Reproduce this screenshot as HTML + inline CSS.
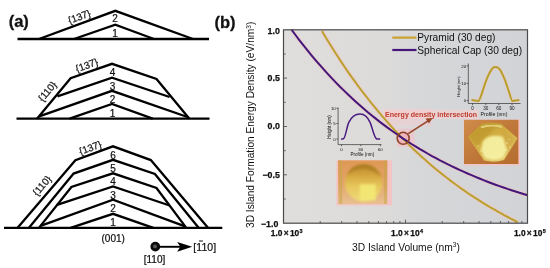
<!DOCTYPE html>
<html><head><meta charset="utf-8"><title>Figure</title>
<style>
html,body{margin:0;padding:0;background:#fff;}
body{width:550px;height:268px;overflow:hidden;}
svg{display:block;}
text{font-family:"Liberation Sans",sans-serif;fill:#111;}
.k{stroke:#000;stroke-width:2.3;fill:none;stroke-linejoin:miter;stroke-linecap:butt}
.lab{font-size:10.2px}
.tk{font-weight:bold;fill:#111;stroke:#111;stroke-width:0.25px}
.ins{fill:#333}
</style></head><body>
<svg width="550" height="268" viewBox="0 0 550 268">
<defs>
<linearGradient id="cap" x1="0" y1="0" x2="0" y2="1">
<stop offset="0" stop-color="#b8842a"/><stop offset="0.3" stop-color="#d5a640"/><stop offset="0.6" stop-color="#e6c75c"/><stop offset="1" stop-color="#efd97a"/>
</linearGradient>
<linearGradient id="capbg" x1="0" y1="0" x2="0" y2="1"><stop offset="0" stop-color="#df9855"/><stop offset="0.5" stop-color="#e2a468"/><stop offset="1" stop-color="#e8c090"/></linearGradient>
<linearGradient id="pyr" x1="0" y1="0" x2="0.6" y2="1"><stop offset="0" stop-color="#b9962c"/><stop offset="0.5" stop-color="#d3ae44"/><stop offset="1" stop-color="#e2c868"/></linearGradient>
<linearGradient id="pbg" x1="0" y1="0" x2="1" y2="1"><stop offset="0" stop-color="#d08c4a"/><stop offset="0.5" stop-color="#bf7839"/><stop offset="1" stop-color="#b66d30"/></linearGradient>
<linearGradient id="plotbg" x1="0" y1="0" x2="1" y2="0"><stop offset="0" stop-color="#dfdedc"/><stop offset="0.42" stop-color="#dcdbda"/><stop offset="0.56" stop-color="#d6d7d9"/><stop offset="1" stop-color="#d2d3d6"/></linearGradient>
<filter id="bl" x="-20%" y="-20%" width="140%" height="140%"><feGaussianBlur stdDeviation="1.2"/></filter>
<filter id="bl2" x="-20%" y="-20%" width="140%" height="140%"><feGaussianBlur stdDeviation="0.7"/></filter>
</defs>
<rect width="550" height="268" fill="#fff"/>

<!-- (a) schematic -->
<text x="8.7" y="26.8" font-size="16.5" font-weight="bold" stroke="#111" stroke-width="0.3">(a)</text>
<g class="k">
<!-- top island -->
<path d="M17.5,39 H209"/>
<path d="M39,39 L115.3,10.8 L193,39"/>
<path d="M74,39 L115.3,24.6 L154,39"/>
<!-- middle island -->
<path d="M16.5,118.7 H209.5"/>
<path d="M37,118.7 L70.6,78.2 L112,63.8 L156.5,78.9 L189.4,118.7"/>
<path d="M57.4,96.4 L112,77.6 L169.6,97"/>
<path d="M39.2,116.4 L112,90.8 L187.5,117"/>
<path d="M69.6,118.7 L112,104 L152.7,118.7"/>
<!-- bottom island -->
<path d="M4,227.9 H222.3"/>
<path d="M17.4,227.9 L75.4,160.2 L113,146.3 L150.8,160.1 L208.2,227.9"/>
<path d="M28.8,227.9 L73.6,173.6 L113,159.8 L154.9,173.9 L198.8,227.9"/>
<path d="M38.9,227.9 L71.4,187 L113,173.3 L156.5,188 L186.3,227.9"/>
<path d="M57,204.9 L113,186.5 L169.6,205.5"/>
<path d="M40.5,225.9 L113,199.6 L185,226.3"/>
<path d="M70.6,227.9 L113,213.8 L153.3,227.9"/>
</g>
<g font-size="10" text-anchor="middle" stroke="#111" stroke-width="0.22">
<text x="115" y="22.2">2</text><text x="115" y="37">1</text>
<text x="112.5" y="75.8">4</text><text x="112.5" y="89.5">3</text><text x="112.5" y="103">2</text><text x="112.5" y="117">1</text>
<text x="113" y="158.5">6</text><text x="113" y="172">5</text><text x="113" y="185">4</text><text x="113" y="198.5">3</text><text x="113" y="212">2</text><text x="113" y="226">1</text>
<text x="113.2" y="242.3">(001)</text>
<text x="154.5" y="263">[110]</text>
<text x="204.7" y="250.6" font-size="10.5"><tspan>[</tspan><tspan dx="0.2">1</tspan><tspan dx="0.1">10]</tspan></text>
<text transform="translate(80.5,20) rotate(-20)">{137}</text>
<text transform="translate(88,68.5) rotate(-20)">{137}</text>
<text transform="translate(50,93.5) rotate(-50)">{110}</text>
<text transform="translate(91.5,151) rotate(-20)">{137}</text>
<text transform="translate(44.6,187.8) rotate(-50)">{110}</text>
</g>
<line x1="199" y1="241" x2="202.9" y2="241" stroke="#111" stroke-width="1"/>
<circle cx="155.3" cy="246.6" r="4.9" fill="#0a0a0a"/>
<circle cx="155" cy="246.4" r="1.9" fill="#555" filter="url(#bl2)"/>
<path d="M159,246.8 H181" stroke="#000" stroke-width="1.9" fill="none"/>
<path d="M177.2,241.9 L192.2,246.8 L177.2,251.7 L180.3,246.8 Z" fill="#000"/>

<!-- (b) chart -->
<text x="214.5" y="28" font-size="16.5" font-weight="bold" stroke="#111" stroke-width="0.3">(b)</text>
<rect x="283.5" y="29.8" width="244.0" height="193.39999999999998" fill="url(#plotbg)"/>
<g stroke="#444" stroke-width="0.8">
<line x1="320.2" y1="223.2" x2="320.2" y2="221.0"/>
<line x1="341.7" y1="223.2" x2="341.7" y2="221.0"/>
<line x1="357.0" y1="223.2" x2="357.0" y2="221.0"/>
<line x1="368.8" y1="223.2" x2="368.8" y2="221.0"/>
<line x1="378.4" y1="223.2" x2="378.4" y2="221.0"/>
<line x1="386.6" y1="223.2" x2="386.6" y2="221.0"/>
<line x1="393.7" y1="223.2" x2="393.7" y2="221.0"/>
<line x1="399.9" y1="223.2" x2="399.9" y2="221.0"/>
<line x1="442.2" y1="223.2" x2="442.2" y2="221.0"/>
<line x1="463.7" y1="223.2" x2="463.7" y2="221.0"/>
<line x1="479.0" y1="223.2" x2="479.0" y2="221.0"/>
<line x1="490.8" y1="223.2" x2="490.8" y2="221.0"/>
<line x1="500.4" y1="223.2" x2="500.4" y2="221.0"/>
<line x1="508.6" y1="223.2" x2="508.6" y2="221.0"/>
<line x1="515.7" y1="223.2" x2="515.7" y2="221.0"/>
<line x1="521.9" y1="223.2" x2="521.9" y2="221.0"/>
<line x1="405.5" y1="223.2" x2="405.5" y2="219.7"/>
<line x1="283.5" y1="54.0" x2="285.7" y2="54.0"/>
<line x1="283.5" y1="78.1" x2="287.0" y2="78.1"/>
<line x1="283.5" y1="102.3" x2="285.7" y2="102.3"/>
<line x1="283.5" y1="126.5" x2="287.0" y2="126.5"/>
<line x1="283.5" y1="150.7" x2="285.7" y2="150.7"/>
<line x1="283.5" y1="174.8" x2="287.0" y2="174.8"/>
<line x1="283.5" y1="199.0" x2="285.7" y2="199.0"/>
</g>
<!-- AFM images -->
<rect x="336.4" y="160.3" width="55.6" height="45.2" fill="#f4c3c4"/>
<rect x="338" y="160.4" width="49.4" height="43.6" fill="url(#capbg)"/>
<rect x="339.2" y="160.4" width="3" height="43.6" fill="#c4a548" opacity="0.5"/>
<rect x="384" y="160.4" width="2.8" height="43.6" fill="#c4a548" opacity="0.5"/>
<ellipse cx="363.7" cy="182.8" rx="18.8" ry="18.6" fill="url(#cap)" filter="url(#bl)"/>
<path d="M347,176 Q350,165.5 363,164.5 Q377,165 381,177 Q372,168.5 363,168.5 Q353,169 347,176 Z" fill="#a8761f" opacity="0.6" filter="url(#bl)"/>
<rect x="359.8" y="184.3" width="16" height="16" fill="#f3ea74" opacity="0.9" filter="url(#bl)"/>

<rect x="463.6" y="119.6" width="56.4" height="45.8" fill="#f4c3c4"/>
<rect x="464" y="119.8" width="54.4" height="44.2" fill="url(#pbg)"/>
<path d="M468,137 L482,123.6 Q491,121.6 501.5,124 L517.5,138.2 L504,160 Q494,163 484,160.5 Z" fill="url(#pyr)" filter="url(#bl2)"/>
<path d="M469.5,137 L482.5,125.3 L497,124.5 L489,134 L477,147 Z" fill="#bd952a" opacity="0.6" filter="url(#bl)"/>
<path d="M501,127 L515.5,139 L506,155 L503,140 Z" fill="#cfa440" opacity="0.55" filter="url(#bl)"/>
<path d="M483,141 Q490,133 503,137 L507,150 L503,158 Q494,162 485,158 L481,150 Z" fill="#f6f2a4" opacity="0.92" filter="url(#bl)"/>
<path d="M481,127.5 Q491,124 502,127" stroke="#ead98c" stroke-width="2" fill="none" opacity="0.8" filter="url(#bl2)"/>
<g fill="#f7f1b5" opacity="0.8"><circle cx="507" cy="143" r="0.8"/><circle cx="510" cy="147" r="0.7"/><circle cx="506.5" cy="150" r="0.8"/><circle cx="509" cy="139.5" r="0.6"/><circle cx="478" cy="146" r="0.7"/><circle cx="481" cy="151" r="0.7"/><circle cx="484" cy="155" r="0.7"/></g>

<!-- curves -->
<rect x="397" y="128.5" width="17.5" height="18.5" fill="#f7bcc6" opacity="0.55" filter="url(#bl2)"/>
<rect x="384" y="109" width="48" height="17" fill="#f8c8cc" opacity="0.45" filter="url(#bl)"/>
<rect x="383.5" y="109.5" width="95" height="9.5" fill="#f9cfd0" opacity="0.55" filter="url(#bl2)"/>
<circle cx="403.2" cy="138.2" r="6" fill="#f2a3b4" opacity="0.6"/>
<path d="M322.0,31.1 L325.3,36.7 L328.6,42.1 L332.0,47.5 L335.3,52.7 L338.6,57.8 L341.9,62.9 L345.2,67.8 L348.5,72.6 L351.9,77.3 L355.2,81.9 L358.5,86.5 L361.8,90.9 L365.1,95.2 L368.5,99.5 L371.8,103.6 L375.1,107.7 L378.4,111.7 L381.7,115.6 L385.1,119.4 L388.4,123.2 L391.7,126.9 L395.0,130.5 L398.3,134.0 L401.6,137.4 L405.0,140.8 L408.3,144.1 L411.6,147.4 L414.9,150.5 L418.2,153.6 L421.6,156.7 L424.9,159.6 L428.2,162.6 L431.5,165.4 L434.8,168.2 L438.2,171.0 L441.5,173.6 L444.8,176.3 L448.1,178.8 L451.4,181.4 L454.7,183.8 L458.1,186.2 L461.4,188.6 L464.7,190.9 L468.0,193.2 L471.3,195.4 L474.7,197.6 L478.0,199.7 L481.3,201.8 L484.6,203.9 L487.9,205.9 L491.3,207.8 L494.6,209.7 L497.9,211.6 L501.2,213.5 L504.5,215.3 L507.8,217.0 L511.2,218.8 L514.5,220.5 L517.8,222.1" fill="none" stroke="#f5c6c6" stroke-width="4.5" opacity="0.55"/>
<path d="M291.5,29.6 L295.5,35.0 L299.5,40.3 L303.5,45.4 L307.5,50.4 L311.5,55.3 L315.5,60.1 L319.5,64.7 L323.5,69.2 L327.5,73.6 L331.5,77.9 L335.5,82.1 L339.5,86.2 L343.5,90.1 L347.5,94.0 L351.5,97.8 L355.5,101.4 L359.5,105.0 L363.5,108.5 L367.5,111.9 L371.5,115.2 L375.5,118.4 L379.5,121.6 L383.5,124.6 L387.5,127.6 L391.5,130.5 L395.5,133.3 L399.5,136.1 L403.5,138.8 L407.5,141.4 L411.5,144.0 L415.5,146.4 L419.5,148.9 L423.5,151.2 L427.5,153.5 L431.5,155.8 L435.5,157.9 L439.5,160.1 L443.5,162.1 L447.5,164.2 L451.5,166.1 L455.5,168.0 L459.5,169.9 L463.5,171.7 L467.5,173.5 L471.5,175.2 L475.5,176.9 L479.5,178.5 L483.5,180.1 L487.5,181.7 L491.5,183.2 L495.5,184.7 L499.5,186.1 L503.5,187.5 L507.5,188.9 L511.5,190.2 L515.5,191.5 L519.5,192.8 L523.5,194.0 L527.5,195.2" fill="none" stroke="#f5c6c6" stroke-width="4.5" opacity="0.45"/>
<path d="M322.0,31.1 L325.3,36.7 L328.6,42.1 L332.0,47.5 L335.3,52.7 L338.6,57.8 L341.9,62.9 L345.2,67.8 L348.5,72.6 L351.9,77.3 L355.2,81.9 L358.5,86.5 L361.8,90.9 L365.1,95.2 L368.5,99.5 L371.8,103.6 L375.1,107.7 L378.4,111.7 L381.7,115.6 L385.1,119.4 L388.4,123.2 L391.7,126.9 L395.0,130.5 L398.3,134.0 L401.6,137.4 L405.0,140.8 L408.3,144.1 L411.6,147.4 L414.9,150.5 L418.2,153.6 L421.6,156.7 L424.9,159.6 L428.2,162.6 L431.5,165.4 L434.8,168.2 L438.2,171.0 L441.5,173.6 L444.8,176.3 L448.1,178.8 L451.4,181.4 L454.7,183.8 L458.1,186.2 L461.4,188.6 L464.7,190.9 L468.0,193.2 L471.3,195.4 L474.7,197.6 L478.0,199.7 L481.3,201.8 L484.6,203.9 L487.9,205.9 L491.3,207.8 L494.6,209.7 L497.9,211.6 L501.2,213.5 L504.5,215.3 L507.8,217.0 L511.2,218.8 L514.5,220.5 L517.8,222.1" fill="none" stroke="#b9a12f" stroke-width="2"/>
<path d="M291.5,29.6 L295.5,35.0 L299.5,40.3 L303.5,45.4 L307.5,50.4 L311.5,55.3 L315.5,60.1 L319.5,64.7 L323.5,69.2 L327.5,73.6 L331.5,77.9 L335.5,82.1 L339.5,86.2 L343.5,90.1 L347.5,94.0 L351.5,97.8 L355.5,101.4 L359.5,105.0 L363.5,108.5 L367.5,111.9 L371.5,115.2 L375.5,118.4 L379.5,121.6 L383.5,124.6 L387.5,127.6 L391.5,130.5 L395.5,133.3 L399.5,136.1 L403.5,138.8 L407.5,141.4 L411.5,144.0 L415.5,146.4 L419.5,148.9 L423.5,151.2 L427.5,153.5 L431.5,155.8 L435.5,157.9 L439.5,160.1 L443.5,162.1 L447.5,164.2 L451.5,166.1 L455.5,168.0 L459.5,169.9 L463.5,171.7 L467.5,173.5 L471.5,175.2 L475.5,176.9 L479.5,178.5 L483.5,180.1 L487.5,181.7 L491.5,183.2 L495.5,184.7 L499.5,186.1 L503.5,187.5 L507.5,188.9 L511.5,190.2 L515.5,191.5 L519.5,192.8 L523.5,194.0 L527.5,195.2" fill="none" stroke="#431779" stroke-width="2"/>
<rect x="283.5" y="29.8" width="244.0" height="193.39999999999998" fill="none" stroke="#4a4a4a" stroke-width="1.2"/>

<!-- legend -->
<line x1="392.3" y1="37.6" x2="416.5" y2="37.6" stroke="#c9a233" stroke-width="2.2"/>
<line x1="392.3" y1="50" x2="416.5" y2="50" stroke="#45177a" stroke-width="2.2"/>
<text x="417.3" y="41.2" class="lab">Pyramid (30 deg)</text>
<text x="417.3" y="53.6" class="lab">Spherical Cap (30 deg)</text>

<!-- intersection -->
<circle cx="403.2" cy="138.2" r="6" fill="none" stroke="#8e4326" stroke-width="1.6"/>
<path d="M408.3,133.6 L428.5,120.6" stroke="#964526" stroke-width="1.7" fill="none"/>
<path d="M432.6,117.9 L425.6,118.4 L428.9,123.6 Z" fill="#964526"/>
<text x="385" y="116.7" font-size="7.7" font-weight="bold" style="fill:#bf3b2b" textLength="92" lengthAdjust="spacingAndGlyphs">Energy density intersection</text>

<!-- left inset -->
<g stroke="#333" stroke-width="0.7" fill="none">
<path d="M338.1,107.5 V144.6 H381.5"/>
<path d="M336.4,108.3 H338.1 M336.4,123.5 H338.1 M336.4,139 H338.1 M341.5,144.6 V146.2 M360.8,144.6 V146.2 M380.3,144.6 V146.2"/>
</g>
<path d="M341,139.1 H343 C345.5,139.1 346.3,128 348.8,122.4 C351.5,116.5 356,113.9 360,113.9 C364.5,113.9 367.8,117 370.1,122.4 C372.8,129 374.2,138.3 376.8,139 H380.2" fill="none" stroke="#4a1c80" stroke-width="1.5"/>
<g class="ins" font-size="4.4">
<text x="335.8" y="110" text-anchor="end">10</text><text x="335.8" y="125.1" text-anchor="end">5</text><text x="335.8" y="140.6" text-anchor="end">0</text>
<text x="341.5" y="150.8" text-anchor="middle">0</text><text x="360.8" y="150.8" text-anchor="middle">30</text><text x="380.3" y="150.8" text-anchor="middle">60</text>
<text x="362.3" y="155.6" text-anchor="middle" font-size="4.6">Profile (nm)</text>
<text transform="translate(331.3,127) rotate(-90)" text-anchor="middle" font-size="4.5">Height (nm)</text>
</g>

<!-- right inset -->
<g stroke="#333" stroke-width="0.7" fill="none">
<path d="M468.3,63.5 V103.5 H520.5"/>
<path d="M466.6,65.9 H468.3 M466.6,83.4 H468.3 M466.6,100.6 H468.3 M472.5,103.5 V105.2 M485.8,103.5 V105.2 M498.7,103.5 V105.2 M512,103.5 V105.2"/>
</g>
<path d="M471.5,99.9 L478.4,101.1 Q479.2,101 481.7,93.8 L485.3,82.9 C487,78 489.5,72.5 491.9,69.1 C493,67.6 494,67.1 495,67.1 C496.5,67.1 497.6,67.4 498.7,68.3 C500.5,70 501.5,72 502.3,73.9 C504,77.5 505,80 506,82.9 L509.6,93.8 Q511.6,101 512.4,101.1 L519.3,99.9" fill="none" stroke="#f3c9c0" stroke-width="3.8" opacity="0.6"/>
<path d="M471.5,99.9 L478.4,101.1 Q479.2,101 481.7,93.8 L485.3,82.9 C487,78 489.5,72.5 491.9,69.1 C493,67.6 494,67.1 495,67.1 C496.5,67.1 497.6,67.4 498.7,68.3 C500.5,70 501.5,72 502.3,73.9 C504,77.5 505,80 506,82.9 L509.6,93.8 Q511.6,101 512.4,101.1 L519.3,99.9" fill="none" stroke="#b5a02e" stroke-width="2" stroke-linejoin="round"/>
<g class="ins" font-size="4.4">
<text x="466.2" y="67.5" text-anchor="end">20</text><text x="466.2" y="85" text-anchor="end">10</text><text x="466.2" y="102.2" text-anchor="end">0</text>
<text x="472.5" y="109.6" text-anchor="middle" font-size="4.6">0</text><text x="485.8" y="109.6" text-anchor="middle" font-size="4.6">30</text><text x="498.7" y="109.6" text-anchor="middle" font-size="4.6">60</text><text x="512" y="109.6" text-anchor="middle" font-size="4.6">90</text>
<text x="494" y="115.8" text-anchor="middle" font-size="5.2">Profile (nm)</text>
<text transform="translate(459.5,86.5) rotate(-90)" text-anchor="middle" font-size="3.9">Height (nm)</text>
</g>

<!-- axis tick labels -->
<g class="tk" text-anchor="end" font-size="8.8">
<text x="279.8" y="33.6">1.0</text>
<text x="279.8" y="81.4">0.5</text>
<text x="279.8" y="129.4">0.0</text>
<text x="279.8" y="177.9">−0.5</text>
<text x="278.3" y="227">−1.0</text>
</g>
<g class="tk" text-anchor="middle">
<text x="286.7" y="236.3" font-size="8.4">1.0<tspan dx="1.3">×</tspan><tspan dx="1.3">10</tspan><tspan font-size="5.4" dy="-2.9" dx="0.3">3</tspan></text>
<text x="407.0" y="236.3" font-size="8.4">1.0<tspan dx="1.3">×</tspan><tspan dx="1.3">10</tspan><tspan font-size="5.4" dy="-2.9" dx="0.3">4</tspan></text>
<text x="529.8" y="236.3" font-size="8.4">1.0<tspan dx="1.3">×</tspan><tspan dx="1.3">10</tspan><tspan font-size="5.4" dy="-2.9" dx="0.3">5</tspan></text>
</g>
<text x="352" y="250.6" font-size="10.25">3D Island Volume (nm<tspan font-size="6.5" dy="-3.4">3</tspan><tspan dy="3.4">)</tspan></text>
<text transform="translate(254.4,228) rotate(-90)" font-size="10.2">3D Island Formation Energy Density (eV/nm<tspan font-size="6.5" dy="-3.4">3</tspan><tspan dy="3.4">)</tspan></text>
</svg>
</body></html>
